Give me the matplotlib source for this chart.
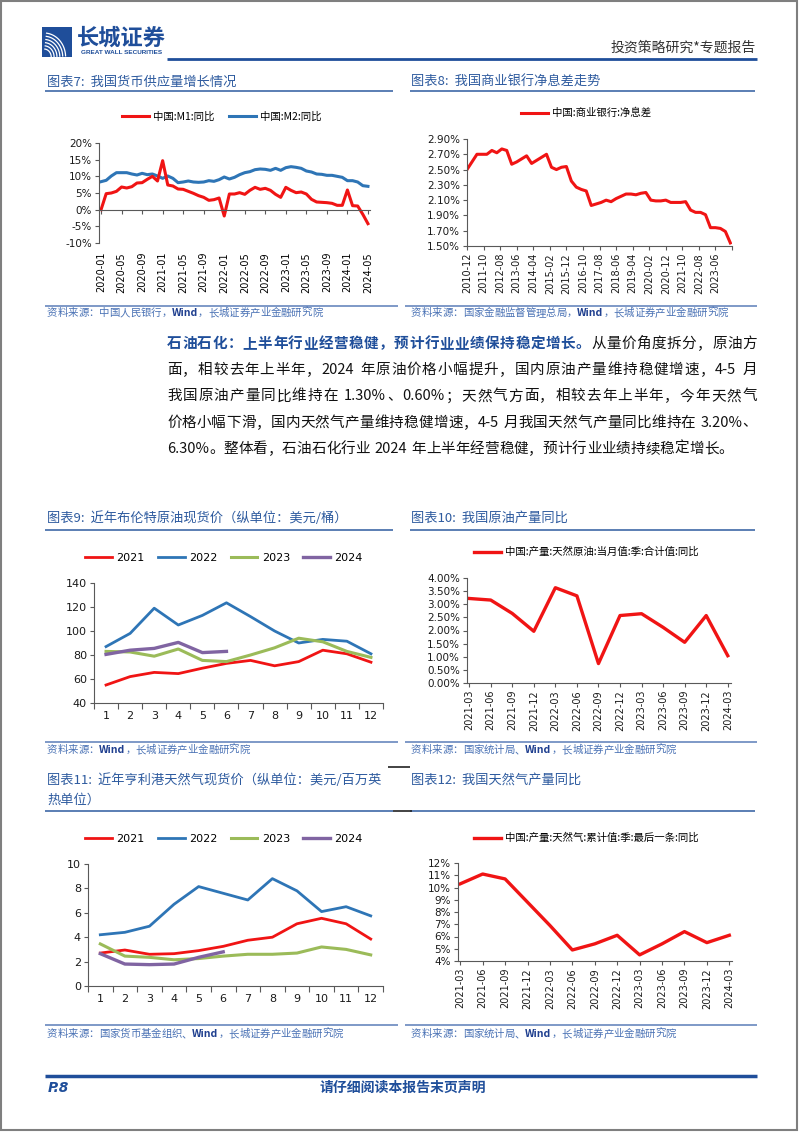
import re
import matplotlib
matplotlib.use('Agg')
import matplotlib.pyplot as plt
import numpy as np
from matplotlib.lines import Line2D
from matplotlib.patches import Rectangle

plt.rcParams['font.family'] = ['DejaVu Sans', 'Noto Sans CJK SC']
plt.rcParams['axes.unicode_minus'] = False

# ---------------- data ----------------
# 图表7 货币供应量 (2020-01 ~ 2024-05, 月度)
m1 = [0.0, 4.8, 5.0, 5.5, 6.8, 6.5, 6.9, 8.0, 8.1, 9.1, 10.0, 8.6,
      14.7, 7.4, 7.1, 6.2, 6.1, 5.5, 4.9, 4.2, 3.7, 2.8, 3.0, 3.5,
      -1.9, 4.7, 4.7, 5.1, 4.6, 5.8, 6.7, 6.1, 6.4, 5.8, 4.6, 3.7,
      6.7, 5.8, 5.1, 5.3, 4.7, 3.1, 2.3, 2.2, 2.1, 1.9, 1.3, 1.3,
      5.9, 1.2, 1.1, -1.4, -4.2]
m2 = [8.4, 8.8, 10.1, 11.1, 11.1, 11.1, 10.7, 10.4, 10.9, 10.5, 10.7, 10.1,
      9.4, 10.1, 9.4, 8.1, 8.3, 8.6, 8.3, 8.2, 8.3, 8.7, 8.5, 9.0,
      9.8, 9.2, 9.7, 10.5, 11.1, 11.4, 12.0, 12.2, 12.1, 11.8, 12.4, 11.8,
      12.6, 12.9, 12.7, 12.4, 11.6, 11.3, 10.7, 10.6, 10.3, 10.3, 10.0, 9.7,
      8.7, 8.7, 8.3, 7.2, 7.0]

# 图表8 商业银行净息差 (2010-12 ~ 2024-03, 季度)
nim = [2.50,
       2.60, 2.70, 2.70, 2.70,
       2.75, 2.72, 2.77, 2.75,
       2.57, 2.60, 2.64, 2.68,
       2.58, 2.62, 2.66, 2.70,
       2.53, 2.50, 2.53, 2.54,
       2.35, 2.27, 2.24, 2.22,
       2.03, 2.05, 2.07, 2.10,
       2.08, 2.12, 2.15, 2.18,
       2.18, 2.17, 2.19, 2.20,
       2.10, 2.09, 2.09, 2.10,
       2.07, 2.07, 2.07, 2.08,
       1.97, 1.94, 1.94, 1.91,
       1.74, 1.74, 1.73, 1.69,
       1.54]

# 图表9 布伦特原油现货价
months = list(range(1, 13))
brent_2021 = [55, 62, 65.5, 64.5, 69, 73, 75.5, 71, 74.5, 84, 81, 74]
brent_2022 = [87, 98, 119, 105, 113, 123.5, 112, 100, 90, 93, 91.5, 81]
brent_2023 = [83, 82.5, 79, 85, 75.5, 74.5, 80, 86, 94, 91, 83, 78]
brent_2024 = [80.5, 84, 85.5, 90.5, 82, 83]

# 图表10 原油产量同比 / 图表12 天然气产量同比
quarters = ['2021-03', '2021-06', '2021-09', '2021-12', '2022-03', '2022-06', '2022-09',
            '2022-12', '2023-03', '2023-06', '2023-09', '2023-12', '2024-03']
oil_yoy = [3.22, 3.16, 2.65, 1.97, 3.63, 3.32, 0.74, 2.57, 2.64, 2.12, 1.55, 2.57, 1.04]
gas_yoy = [10.3, 11.1, 10.7, 8.8, 6.9, 4.9, 5.4, 6.1, 4.5, 5.4, 6.4, 5.5, 6.1]

# 图表11 亨利港天然气现货价
hh_2021 = [2.7, 2.95, 2.6, 2.65, 2.9, 3.25, 3.75, 4.0, 5.1, 5.55, 5.1, 3.85]
hh_2022 = [4.2, 4.4, 4.9, 6.7, 8.15, 7.6, 7.05, 8.8, 7.8, 6.1, 6.5, 5.75]
hh_2023 = [3.45, 2.45, 2.35, 2.15, 2.25, 2.45, 2.6, 2.6, 2.7, 3.2, 3.0, 2.55]
hh_2024 = [2.65, 1.8, 1.75, 1.8, 2.35, 2.8]

RED = '#F01414'
BLUE = '#2E75B6'
GREEN = '#9BBB59'
PURPLE = '#8064A2'
NAVY = '#1F4E9A'
TITLE = '#2E5B9F'
SRC = '#4A72B5'
AXC = '#595959'
CJK = ['Noto Sans CJK SC', 'DejaVu Sans']

W, H = 802, 1133
fig = plt.figure(figsize=(8.02, 11.33), dpi=100)
renderer = fig.canvas.get_renderer()


def fx(x):
    return x / W


def fy(y):
    return 1 - y / H


def box(x0, y0, x1, y1):
    return [fx(x0), fy(y1), (x1 - x0) / W, (y1 - y0) / H]


def hline(x0, x1, y, color, lw):
    fig.add_artist(Line2D([fx(x0), fx(x1)], [fy(y), fy(y)], transform=fig.transFigure,
                          color=color, lw=lw, solid_capstyle='butt'))


def put_runs(x0, y, runs, size, x1=None):
    # 按字符排版，可两端对齐
    arts = []
    for s, c, w in runs:
        for t in re.findall(r'[!-~]+| |.', s):
            if t == ' ':
                arts.append((None, size * 0.3 * 100 / 72))
            else:
                a = fig.text(0, fy(y), t, color=c, fontsize=size, fontweight=w,
                             family=CJK, va='baseline', ha='left')
                arts.append((a, a.get_window_extent(renderer).width))
    total = sum(w for _, w in arts)
    gap = 0 if x1 is None else (x1 - x0 - total) / (len(arts) - 1)
    x = x0
    for a, wpx in arts:
        if a is not None:
            a.set_x(fx(x))
        x += wpx + gap


def style(ax, fs):
    for s in ['top', 'right']:
        ax.spines[s].set_visible(False)
    for s in ['left', 'bottom']:
        ax.spines[s].set_color(AXC)
        ax.spines[s].set_linewidth(0.8)
    ax.tick_params(axis='both', direction='out', length=3, width=0.8, color=AXC,
                   labelsize=fs, pad=2, labelcolor='#1a1a1a')
    ax.patch.set_alpha(0)


def legend(ax, cx, cy, fs, ncol, hl, cs, cjk=True, handles=None):
    prop = {'family': CJK if cjk else ['DejaVu Sans'], 'size': fs}
    kw = dict(loc='center', bbox_to_anchor=(fx(cx), fy(cy)), bbox_transform=fig.transFigure,
              ncol=ncol, frameon=False, prop=prop, handlelength=hl, handletextpad=0.4,
              columnspacing=cs, borderpad=0, borderaxespad=0)
    if handles is not None:
        ax.legend(handles=handles, **kw)
    else:
        ax.legend(**kw)


# ---------------- page frame / header ----------------
fig.add_artist(Rectangle((fx(1), fy(1130)), fx(796), 1129 / H, transform=fig.transFigure,
                         fill=False, edgecolor='#7F7F7F', lw=1.5))
fig.add_artist(Rectangle((fx(42), fy(57)), 30 / W, 30 / H, transform=fig.transFigure,
                         facecolor=NAVY, edgecolor='none'))
for k in range(6):
    r = 8 + 3.2 * k
    t = np.linspace(0.05, 1.45, 30)
    xs = 44 + r * np.cos(t) * 0.9
    ys = 57 - r * np.sin(t)
    fig.add_artist(Line2D(fx(xs), fy(ys), transform=fig.transFigure, color='white', lw=0.9))
fig.text(fx(77), fy(38), '长城证券', fontsize=16, fontweight='bold', color=NAVY,
         family=CJK, va='center', ha='left')
fig.text(fx(81), fy(53), 'GREAT WALL SECURITIES', fontsize=4.6, fontweight='bold', color=NAVY,
         family=['Liberation Sans'], va='center', ha='left')
fig.text(fx(756), fy(48), '投资策略研究*专题报告', fontsize=10, color='#333333',
         family=CJK, va='center', ha='right')
hline(167, 757, 59, NAVY, 2)

# titles
fig.text(fx(47), fy(82), '图表7:  我国货币供应量增长情况', fontsize=9.5, color=TITLE, family=CJK, va='center')
fig.text(fx(411), fy(82), '图表8:  我国商业银行净息差走势', fontsize=9.5, color=TITLE, family=CJK, va='center')
fig.text(fx(47), fy(518), '图表9:  近年布伦特原油现货价（纵单位：美元/桶）', fontsize=9.5, color=TITLE,
         family=CJK, va='center')
fig.text(fx(411), fy(518), '图表10:  我国原油产量同比', fontsize=9.5, color=TITLE, family=CJK, va='center')
fig.text(fx(47), fy(780), '图表11:  近年亨利港天然气现货价（纵单位：美元/百万英', fontsize=9.5, color=TITLE,
         family=CJK, va='center')
fig.text(fx(47), fy(800), '热单位）', fontsize=9.5, color=TITLE, family=CJK, va='center')
fig.text(fx(411), fy(780), '图表12:  我国天然气产量同比', fontsize=9.5, color=TITLE, family=CJK, va='center')

for y in [91, 530, 811]:
    hline(45, 393, y, TITLE, 1.1)
    hline(410, 755, y, TITLE, 1.1)
hline(388, 410, 767, '#222222', 1.2)
hline(393, 412, 811, '#222222', 1.2)

for y in [306, 742, 1025]:
    hline(45, 398, y, '#5B7DB8', 1.1)
    hline(405, 757, y, '#5B7DB8', 1.1)


def source(x, y, pre, post):
    put_runs(x, y, [(pre, SRC, 'normal'), ('Wind', '#1F3F8F', 'bold'), (post, SRC, 'normal')], 7.5)


source(47, 316, '资料来源：中国人民银行，', '，长城证券产业金融研究院')
source(411, 316, '资料来源：国家金融监督管理总局，', '，长城证券产业金融研究院')
source(47, 753, '资料来源：', '，长城证券产业金融研究院')
source(411, 753, '资料来源：国家统计局、', '，长城证券产业金融研究院')
source(47, 1037, '资料来源：国家货币基金组织、', '，长城证券产业金融研究院')
source(411, 1037, '资料来源：国家统计局、', '，长城证券产业金融研究院')

# paragraph
BLK = '#111111'
para = [
    [('石油石化：上半年行业经营稳健，预计行业业绩保持稳定增长。', NAVY, 'bold'), ('从量价角度拆分，原油方', BLK, 'normal')],
    [('面，相较去年上半年，2024 年原油价格小幅提升，国内原油产量维持稳健增速，4-5 月', BLK, 'normal')],
    [('我国原油产量同比维持在 1.30%、0.60%；天然气方面，相较去年上半年，今年天然气', BLK, 'normal')],
    [('价格小幅下滑，国内天然气产量维持稳健增速，4-5 月我国天然气产量同比维持在 3.20%、', BLK, 'normal')],
    [('6.30%。整体看，石油石化行业 2024 年上半年经营稳健，预计行业业绩持续稳定增长。', BLK, 'normal')],
]
for i, runs in enumerate(para):
    yb = 348 + 26.2 * i
    put_runs(167, yb, runs, 10.5, None if i == len(para) - 1 else 757)

# footer
hline(45, 757, 1076, NAVY, 2.5)
fig.text(fx(48), fy(1088), 'P.8', fontsize=10, fontweight='bold', fontstyle='italic', color=NAVY,
         family=['DejaVu Sans'], va='center')
fig.text(fx(403), fy(1088), '请仔细阅读本报告末页声明', fontsize=10, fontweight='bold', color=NAVY,
         family=CJK, va='center', ha='center')

# ---------------- 图表7 ----------------
ax7 = fig.add_axes(box(99, 143, 370, 243))
style(ax7, 7.5)
x7 = np.arange(len(m1))
l2, = ax7.plot(x7, m2, color=BLUE, lw=2.2, label='中国:M2:同比')
l1, = ax7.plot(x7, m1, color=RED, lw=2.2, label='中国:M1:同比')
ax7.set_ylim(-10, 20)
ax7.set_yticks(range(-10, 21, 5))
ax7.yaxis.set_major_formatter(lambda v, p: f'{v:.0f}%')
ax7.set_xlim(-0.4, 52.4)
ax7.spines['bottom'].set_position(('data', 0))
ax7.set_xticks(x7[::4])
ax7.set_xticklabels([])
for i in x7[::4]:
    yr, mo = 2020 + i // 12, i % 12 + 1
    ax7.text(i, -0.09, f'{yr}-{mo:02d}', transform=ax7.get_xaxis_transform(), rotation=90,
             ha='center', va='top', fontsize=7)
legend(ax7, 222, 117, 7.5, 2, 2.6, 1.4, handles=[l1, l2])

# ---------------- 图表8 ----------------
ax8 = fig.add_axes(box(467, 139, 732, 246))
style(ax8, 7.5)
x8 = np.arange(0, 160, 3)
ax8.plot(x8, nim, color=RED, lw=2.2, label='中国:商业银行:净息差')
ax8.set_ylim(1.5, 2.9)
ax8.set_yticks(np.arange(1.5, 2.91, 0.2))
ax8.yaxis.set_major_formatter(lambda v, p: f'{v:.2f}%')
ax8.set_xlim(0, 160)
ticks8 = list(range(0, 161, 10))
ax8.set_xticks(ticks8)
ax8.set_xticklabels([f'{2010 + (11 + m) // 12}-{(11 + m) % 12 + 1:02d}' if m < 160 else '' for m in ticks8],
                    rotation=90, fontsize=7)
legend(ax8, 586, 113, 7.5, 1, 2.6, 1.4)

# ---------------- 图表9 ----------------
ax9 = fig.add_axes(box(94, 583, 383, 703))
style(ax9, 8)
ax9.plot(months, brent_2021, color=RED, lw=2, label='2021')
ax9.plot(months, brent_2022, color=BLUE, lw=2, label='2022')
ax9.plot(months, brent_2023, color=GREEN, lw=2.2, label='2023')
ax9.plot(months[:len(brent_2024)], brent_2024, color=PURPLE, lw=2.4, label='2024')
ax9.set_ylim(40, 140)
ax9.set_yticks(range(40, 141, 20))
ax9.set_xlim(0.5, 12.5)
ax9.set_xticks(months)
ax9.set_xticks(np.arange(0.5, 12.6, 1), minor=True)
ax9.tick_params(axis='x', which='major', length=0, pad=6)
ax9.tick_params(axis='x', which='minor', length=4, width=0.8, color=AXC)
legend(ax9, 224, 558, 8, 4, 2.4, 1.2, cjk=False)

# ---------------- 图表10 ----------------
ax10 = fig.add_axes(box(467, 578, 731, 683))
style(ax10, 7.5)
x10 = np.arange(len(quarters))
ax10.plot(x10, oil_yoy, color=RED, lw=2.4, label='中国:产量:天然原油:当月值:季:合计值:同比')
ax10.set_ylim(0, 4)
ax10.set_yticks(np.arange(0, 4.01, 0.5))
ax10.yaxis.set_major_formatter(lambda v, p: f'{v:.2f}%')
ax10.set_xlim(-0.1, 12.15)
ax10.set_xticks(x10)
ax10.set_xticklabels(quarters, rotation=90, fontsize=7)
legend(ax10, 586, 552, 7.5, 1, 2.6, 1.4)

# ---------------- 图表11 ----------------
ax11 = fig.add_axes(box(88, 864, 383, 986))
style(ax11, 8)
ax11.plot(months, hh_2021, color=RED, lw=2, label='2021')
ax11.plot(months, hh_2022, color=BLUE, lw=2, label='2022')
ax11.plot(months, hh_2023, color=GREEN, lw=2.2, label='2023')
ax11.plot(months[:len(hh_2024)], hh_2024, color=PURPLE, lw=2.4, label='2024')
ax11.set_ylim(0, 10)
ax11.set_yticks(range(0, 11, 2))
ax11.set_xlim(0.5, 12.5)
ax11.set_xticks(months)
ax11.set_xticks(np.arange(0.5, 12.6, 1), minor=True)
ax11.tick_params(axis='x', which='major', length=0, pad=6)
ax11.tick_params(axis='x', which='minor', length=4, width=0.8, color=AXC)
legend(ax11, 224, 839, 8, 4, 2.4, 1.2, cjk=False)

# ---------------- 图表12 ----------------
ax12 = fig.add_axes(box(458, 863, 732, 961))
style(ax12, 7.5)
ax12.plot(x10, gas_yoy, color=RED, lw=2.4, label='中国:产量:天然气:累计值:季:最后一条:同比')
ax12.set_ylim(4, 12)
ax12.set_yticks(range(4, 13, 1))
ax12.yaxis.set_major_formatter(lambda v, p: f'{v:.0f}%')
ax12.set_xlim(-0.1, 12.12)
ax12.set_xticks(x10)
ax12.set_xticklabels(quarters, rotation=90, fontsize=7)
legend(ax12, 586, 838, 7.5, 1, 2.6, 1.4)

fig.savefig('out.png', dpi=100, facecolor='white')
